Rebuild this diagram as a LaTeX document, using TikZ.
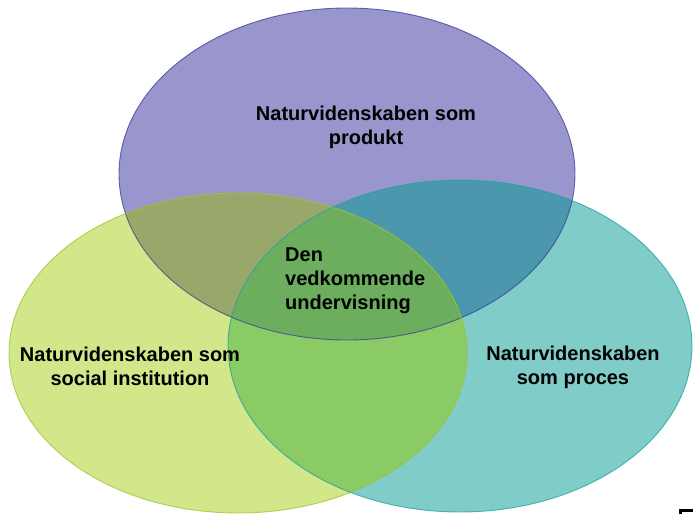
\documentclass[tikz,border=0pt]{standalone}
\usepackage{fontspec}
\setmainfont{Liberation Sans}
\begin{document}
\begin{tikzpicture}[x=1pt,y=-1pt,
  lbl/.style={font=\bfseries\fontsize{20}{24}\selectfont, inner sep=0pt, text=black},
  rim/.style={line width=0.9pt, opacity=0.75}]
\definecolor{prodFill}{HTML}{9995CD}
\definecolor{prodEdge}{HTML}{3B3B96}
\definecolor{instFill}{HTML}{D2E68A}
\definecolor{instEdge}{HTML}{9DC42E}
\definecolor{procFill}{HTML}{7FCCC8}
\definecolor{procEdge}{HTML}{1FA2A0}
\definecolor{prodInst}{HTML}{97A86A}
\definecolor{prodProc}{HTML}{4A97AE}
\definecolor{instProc}{HTML}{8ACB66}
\definecolor{allThree}{HTML}{6DAE5E}
\useasboundingbox (0,0) rectangle (693,514);
\clip (0,0) rectangle (693,514);
% the three circles of the Venn diagram
\def\prodE{(347,174) ellipse [x radius=228pt, y radius=166pt]}
\def\instE{(238,353) ellipse [x radius=229pt, y radius=160pt]}
\def\procE{(460,346) ellipse [x radius=232pt, y radius=166pt]}
\fill[prodFill] \prodE;
\fill[instFill] \instE;
\fill[procFill] \procE;
% pairwise overlaps
\begin{scope}\clip \prodE; \fill[prodInst] \instE; \end{scope}
\begin{scope}\clip \prodE; \fill[prodProc] \procE; \end{scope}
\begin{scope}\clip \instE; \fill[instProc] \procE; \end{scope}
% common region
\begin{scope}\clip \prodE; \clip \instE; \fill[allThree] \procE; \end{scope}
% outlines
\draw[rim, prodEdge] \prodE;
\draw[rim, instEdge] \instE;
\draw[rim, procEdge] \procE;
% labels
\node[lbl, align=center, anchor=north] (prod) at (366,106) {Naturvidenskaben som\\produkt};
\node[lbl, align=center, anchor=north] (inst) at (130,347) {Naturvidenskaben som\\social institution};
\node[lbl, align=center, anchor=north] (proc) at (573,346) {Naturvidenskaben\\som proces};
\node[lbl, align=left, anchor=north west] (core) at (285,248) {Den\\vedkommende\\undervisning};
% glyph corner cut off at the lower right edge
\draw[line width=2.7pt] (680.6,514) -- (680.6,510.6) -- (693,510.6);
\end{tikzpicture}
\end{document}
